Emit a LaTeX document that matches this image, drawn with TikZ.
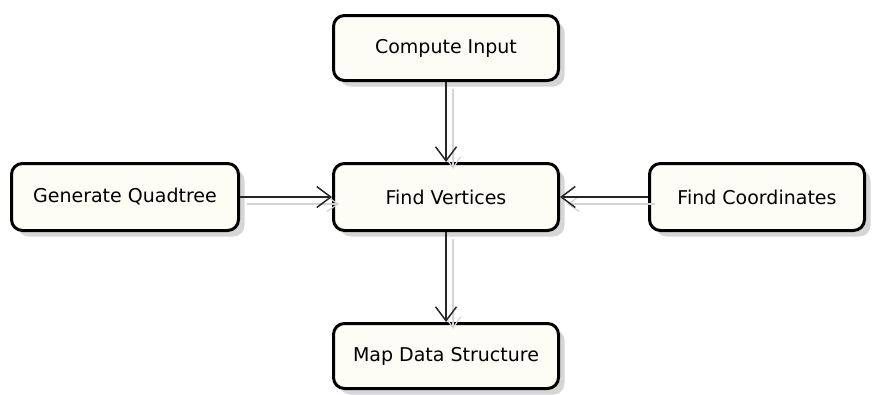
\documentclass[tikz,border=0pt]{standalone}
\usepackage{fontspec}
\setmainfont{DejaVu Sans}
\usetikzlibrary{arrows.meta,shadows}
\definecolor{boxfill}{HTML}{FDFDF6}
\definecolor{shade}{HTML}{D6D6D6}
\definecolor{edgeshade}{HTML}{D4D4D4}
\tikzset{
  procbox/.style={draw=black, line width=3pt, fill=boxfill, rounded corners=11pt,
    inner sep=0pt, font=\fontsize{19}{22}\selectfont,
    drop shadow={shadow xshift=6pt, shadow yshift=-6pt, fill=shade, opacity=1}},
  flow/.style={line width=1.5pt, draw=black!85,
    -{Straight Barb[length=14pt,width=21pt,line width=1.5pt]}},
  flowshadow/.style={line width=1.2pt, draw=edgeshade,
    -{Straight Barb[length=11pt,width=15pt,line width=1.2pt]}}
}
\begin{document}
\begin{tikzpicture}[x=1pt,y=1pt]
\useasboundingbox (0,0) rectangle (872,-394);
% process boxes
\node[procbox, minimum width=225pt, minimum height=65pt] (input)  at (446,-48)  {Compute Input};
\node[procbox, minimum width=225pt, minimum height=67pt] (verts)  at (446,-197) {Find Vertices};
\node[procbox, minimum width=227pt, minimum height=67pt] (quad)   at (125,-197) {Generate Quadtree};
\node[procbox, minimum width=215pt, minimum height=67pt] (coords) at (757,-197) {Find Coordinates};
\node[procbox, minimum width=225pt, minimum height=65pt] (map)    at (446,-356) {Map Data Structure};
% faint offset copies of the connectors
\begin{scope}[transform canvas={shift={(7pt,-7pt)}}]
  \draw[flowshadow] (input.south) -- (verts.north);
  \draw[flowshadow] (verts.south) -- (map.north);
  \draw[flowshadow] (quad.east) -- (verts.west);
  \draw[flowshadow] (coords.west) -- (verts.east);
\end{scope}
% connectors
\draw[flow] (input.south) -- (verts.north);
\draw[flow] (verts.south) -- (map.north);
\draw[flow] (quad.east) -- (verts.west);
\draw[flow] (coords.west) -- (verts.east);
\end{tikzpicture}
\end{document}
